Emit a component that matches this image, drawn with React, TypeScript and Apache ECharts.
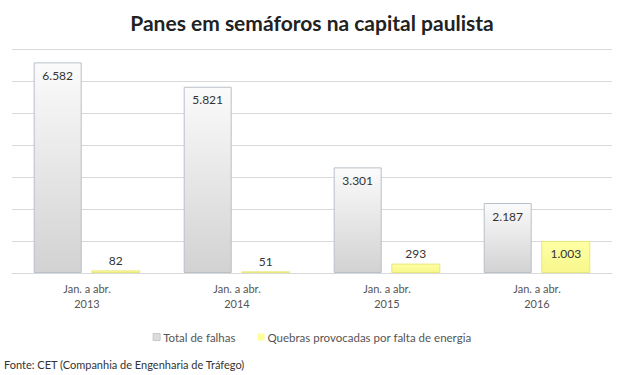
import React, { useEffect, useRef } from "react";
import * as echarts from "echarts";

const categories = ["Jan. a abr.\n2013", "Jan. a abr.\n2014", "Jan. a abr.\n2015", "Jan. a abr.\n2016"];
const totalFalhas = [6582, 5821, 3301, 2187];
const quebrasEnergia = [82, 51, 293, 1003];
const seriesNames = ["Total de falhas", "Quebras provocadas por falta de energia"];

const fmt = (v: number) => {
  const s = String(v);
  return s.length > 3 ? s.slice(0, s.length - 3) + "." + s.slice(s.length - 3) : s;
};

const FONT = "Lato, 'Open Sans', sans-serif";

export default function App() {
  const ref = useRef<HTMLDivElement>(null);
  useEffect(() => {
    if (!ref.current) return;
    const chart = echarts.init(ref.current, undefined, { renderer: "svg" });
    chart.setOption({
      animation: false,
      backgroundColor: "#ffffff",
      title: {
        text: "Panes em semáforos na capital paulista",
        left: "center",
        top: 7,
        textStyle: { fontFamily: FONT, fontSize: 21, fontWeight: "bold", color: "#222222" },
      },
      grid: { left: 12, right: 12, top: 49, bottom: 102, containLabel: false },
      legend: {
        top: 326,
        left: "center",
        itemWidth: 7,
        itemHeight: 7,
        itemGap: 22,
        icon: "rect",
        textStyle: { fontFamily: FONT, fontSize: 11.5, color: "#555555", padding: [0, 0, 0, -2] },
        data: [
          { name: seriesNames[0], itemStyle: { color: "#dcdcdc", borderColor: "#c8c8c8", borderWidth: 1 } },
          { name: seriesNames[1], itemStyle: { color: "#ffff99", borderWidth: 0 } },
        ],
      },
      xAxis: {
        type: "category",
        data: categories,
        axisLine: { lineStyle: { color: "#d9d9d9" } },
        axisTick: { show: false },
        axisLabel: { fontFamily: FONT, fontSize: 11, color: "#555555", lineHeight: 15, margin: 8 },
      },
      yAxis: {
        type: "value",
        min: 0,
        max: 7000,
        interval: 1000,
        axisLabel: { show: false },
        axisLine: { show: false },
        axisTick: { show: false },
        splitLine: { lineStyle: { color: "#d9d9d9" } },
      },
      series: [
        {
          name: seriesNames[0],
          type: "bar",
          data: totalFalhas,
          barWidth: 48,
          barGap: "20%",
          itemStyle: {
            color: new echarts.graphic.LinearGradient(0, 0, 0, 1, [
              { offset: 0, color: "#fbfbfb" },
              { offset: 1, color: "#d2d2d2" },
            ]),
            borderColor: "#b9c0c8",
            borderWidth: 1,
          },
          label: {
            show: true,
            position: "insideTop",
            distance: 7,
            formatter: (p: any) => fmt(p.value),
            fontFamily: FONT,
            fontSize: 12,
            color: "#333333",
          },
        },
        {
          name: seriesNames[1],
          type: "bar",
          data: quebrasEnergia.map((v) =>
            v < 600
              ? { value: v, label: { position: "top", distance: 4 } }
              : { value: v }
          ),
          barWidth: 49,
          itemStyle: {
            color: new echarts.graphic.LinearGradient(0, 0, 0, 1, [
              { offset: 0, color: "#ffffa6" },
              { offset: 1, color: "#f7f78c" },
            ]),
            borderColor: "#e8e87a",
            borderWidth: 1,
          },
          label: {
            show: true,
            position: "insideTop",
            distance: 7,
            formatter: (p: any) => fmt(p.value),
            fontFamily: FONT,
            fontSize: 12,
            color: "#333333",
          },
        },
      ],
      graphic: [
        {
          type: "text",
          left: 4,
          top: 359,
          style: {
            text: "Fonte: CET (Companhia de Engenharia de Tráfego)",
            fontFamily: FONT,
            fontSize: 11,
            fill: "#333333",
          },
        },
      ],
    });
    return () => chart.dispose();
  }, []);
  return (
    <div
      ref={ref}
      style={{ position: "fixed", left: 0, top: 0, width: 624, height: 375 }}
    />
  );
}
